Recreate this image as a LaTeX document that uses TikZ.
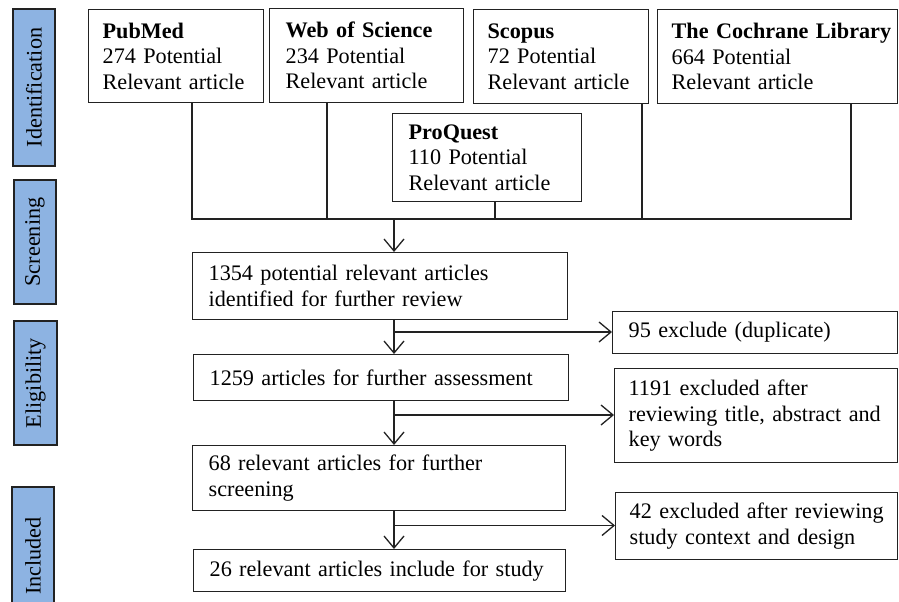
\documentclass[tikz,border=0pt]{standalone}
\usepackage{fontspec}
\setmainfont{Liberation Serif}
\usetikzlibrary{arrows.meta}
\definecolor{barblue}{HTML}{8DB3E2}
\definecolor{ln}{HTML}{222222}
\begin{document}
\begin{tikzpicture}[x=1pt,y=-1pt,
  font=\fontsize{22.2}{25.5}\selectfont,
  bx/.style={draw=ln, line width=1.3pt, anchor=north west, align=left, inner ysep=2pt, inner xsep=16pt},
  bar/.style={draw=ln, line width=1.3pt, fill=barblue, anchor=center, rotate=90, inner sep=0pt},
  con/.style={draw=ln, line width=1.3pt},
  arr/.style={con, -{Straight Barb[length=12pt,width=20pt,line width=1.3pt]}}]
\path[use as bounding box] (0,0) rectangle (899,602);
\clip (0,0) rectangle (899,602);
% stage bars
\node[bar, minimum width=157pt, minimum height=42pt] (idb) at (34,87.5) {Identification};
\node[bar, minimum width=124pt, minimum height=42pt] (scb) at (35,242) {Screening};
\node[bar, minimum width=124pt, minimum height=43pt] (elb) at (35.5,383) {Eligibility};
\node[bar, minimum width=138pt, minimum height=42pt] (inb) at (33,556) {Included};
% source boxes
\node[bx, text width=147pt, inner xsep=14pt, minimum height=93pt] (pub) at (88,9) {\textbf{PubMed}\\274 Potential\\Relevant article};
\node[bx, text width=162pt, minimum height=94pt] (wos) at (269,8) {\textbf{Web of Science}\\234 Potential\\Relevant article};
\node[bx, text width=147pt, inner xsep=14pt, minimum height=94pt] (sco) at (473,9) {\textbf{Scopus}\\72 Potential\\Relevant article};
\node[bx, text width=212pt, inner xsep=14pt, minimum height=94pt] (coch) at (657,9) {\mbox{\textbf{The Cochrane Library}}\\664 Potential\\Relevant article};
\node[bx, text width=157pt, minimum height=88pt] (proq) at (392,113) {\textbf{ProQuest}\\110 Potential\\Relevant article};
% flow boxes
\node[bx, text width=343pt, minimum height=67pt] (b1354) at (192,252) {1354 potential relevant articles\\identified for further review};
\node[bx, text width=343pt, minimum height=46pt] (b1259) at (193,354) {1259 articles for further assessment};
\node[bx, text width=341pt, minimum height=65pt] (b68) at (192,445) {68 relevant articles for further\\screening};
\node[bx, text width=340pt, minimum height=42pt] (b26) at (193,549) {26 relevant articles include for study};
% exclusion boxes
\node[bx, text width=253pt, minimum height=42pt] (ex95) at (612,311) {95 exclude (duplicate)};
\node[bx, text width=255pt, inner xsep=14pt, minimum height=94pt] (ex1191) at (614,368) {1191 excluded after\\reviewing title, abstract and\\key words};
\node[bx, text width=254pt, inner xsep=14pt, minimum height=67pt] (ex42) at (615,492) {42 excluded after reviewing\\study context and design};
% junction coordinates
\coordinate (jPub) at (192,219);
\coordinate (jWos) at (327,219);
\coordinate (jPro) at (495,219);
\coordinate (jSco) at (642,219);
\coordinate (jCoch) at (851,219);
\coordinate (jMid) at (394,219);
\coordinate (br1) at (394,332);
\coordinate (br2) at (394,415);
\coordinate (br3) at (394,525.5);
% connectors
\draw[con] (pub.south -| jPub) -- (jPub) -- (jCoch) -- (coch.south -| jCoch);
\draw[con] (wos.south -| jWos) -- (jWos);
\draw[con] (proq.south -| jPro) -- (jPro);
\draw[con] (sco.south -| jSco) -- (jSco);
\draw[arr] (jMid) -- (b1354.north -| jMid);
\draw[arr] (b1354.south -| jMid) -- (b1259.north -| jMid);
\draw[arr] (br1) -- (br1 -| ex95.west);
\draw[arr] (b1259.south -| jMid) -- (b68.north -| jMid);
\draw[arr] (br2) -- (br2 -| ex1191.west);
\draw[arr] (b68.south -| jMid) -- (b26.north -| jMid);
\draw[arr] (br3) -- (br3 -| ex42.west);
\end{tikzpicture}
\end{document}
